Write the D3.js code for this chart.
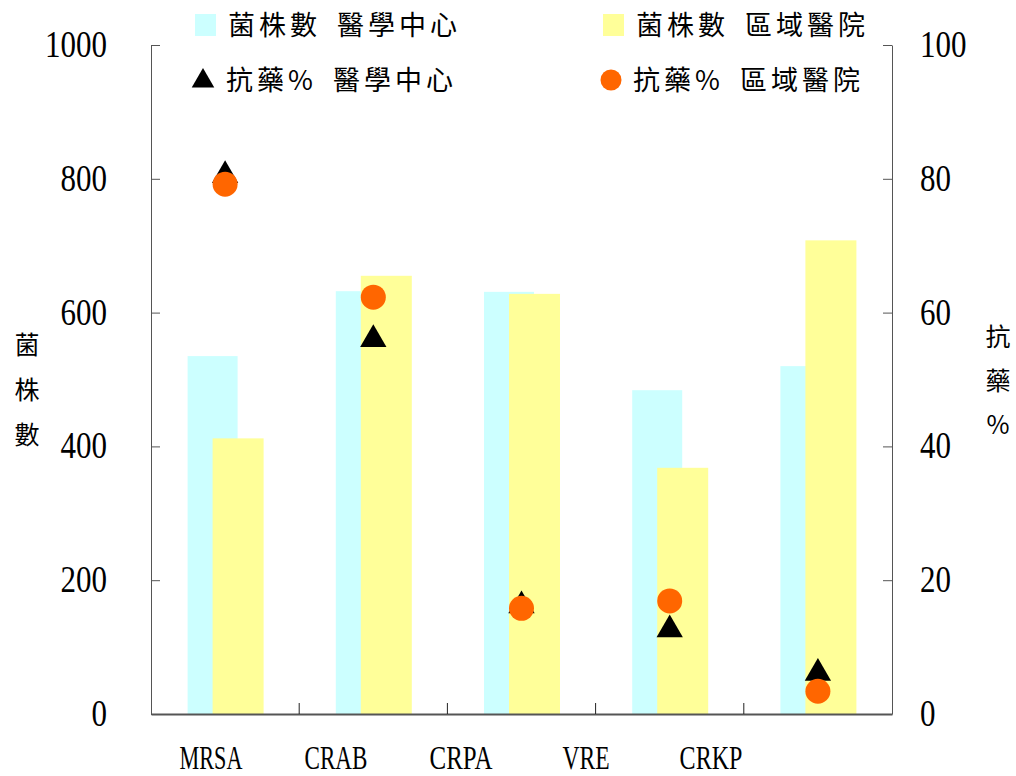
<!doctype html>
<html lang="zh-Hant">
  <head>
    <meta charset="utf-8">
    <title>菌株數與抗藥%</title>
    <script src="https://d3js.org/d3.v7.min.js"></script>
    <style>
    body { margin: 0; background: #fff; }
    .tick text, .cat { font-family: "Liberation Serif", serif; fill: #000; }
    .cjk { font-family: "Noto Sans CJK TC", sans-serif; fill: #000; }
    .axis path, .axis line { stroke: #555; }
    </style>
  </head>
  <body>
    <svg width="1016" height="776"></svg>
    <script>
      // data
      var groups = ['MRSA', 'CRAB', 'CRPA', 'CRKP', 'VRE2'];
      var catLabels = ['MRSA', 'CRAB', 'CRPA', 'VRE', 'CRKP'];
      var countMedical = [535, 632, 631, 484, 520];
      var countRegional = [412, 655, 628, 368, 708];
      var pctMedical = [80.5, 56, 16.2, 12.6, 6.1];
      var pctRegional = [79.2, 62.3, 15.8, 16.9, 3.4];
      var leftTicks = [0, 200, 400, 600, 800, 1000];
      var rightTicks = [0, 20, 40, 60, 80, 100];

      var svg = d3.select('svg');
      var plotLeft = 151, plotRight = 892, plotTop = 45, plotBottom = 714;

      var x = d3.scaleBand().domain(groups).range([plotLeft, plotRight]);
      var yCount = d3.scaleLinear().domain([0, 1000]).range([plotBottom, plotTop]);
      var yPct = d3.scaleLinear().domain([0, 100]).range([plotBottom, plotTop]);
      var barW = 50;

      // bars (cyan behind, yellow in front)
      svg.selectAll('rect.med').data(groups).enter().append('rect')
        .attr('x', function(d){ return x(d) + x.bandwidth() / 2 - 37.5; })
        .attr('y', function(d, i){ return yCount(countMedical[i]); })
        .attr('width', barW)
        .attr('height', function(d, i){ return plotBottom - yCount(countMedical[i]); })
        .attr('fill', '#ccffff');

      svg.selectAll('rect.reg').data(groups).enter().append('rect')
        .attr('x', function(d){ return x(d) + x.bandwidth() / 2 - 12.5; })
        .attr('y', function(d, i){ return yCount(countRegional[i]); })
        .attr('width', barW + 1)
        .attr('height', function(d, i){ return plotBottom - yCount(countRegional[i]); })
        .attr('fill', '#ffff99');

      // axes
      svg.append('g').attr('class', 'axis')
        .attr('transform', 'translate(' + plotLeft + ',0)')
        .call(d3.axisRight(yCount).tickValues(leftTicks).tickSize(9).tickSizeOuter(0).tickFormat(''));
      svg.append('g').attr('class', 'axis')
        .attr('transform', 'translate(' + plotRight + ',0)')
        .call(d3.axisLeft(yPct).tickValues(rightTicks).tickSize(9).tickSizeOuter(0).tickFormat(''));
      svg.append('g').attr('class', 'axis')
        .attr('transform', 'translate(0,' + plotBottom + ')')
        .call(d3.axisTop(x).tickSize(0).tickFormat(''))
        .call(function(g){ g.select('path').attr('stroke-width', 2); });
      // boundary ticks between groups
      svg.selectAll('line.sep').data(groups.slice(1)).enter().append('line')
        .attr('x1', function(d){ return x(d); })
        .attr('x2', function(d){ return x(d); })
        .attr('y1', plotBottom).attr('y2', plotBottom - 11)
        .attr('stroke', '#222');

      // tick labels
      svg.selectAll('text.lt').data(leftTicks).enter().append('text')
        .attr('class', 'cat')
        .attr('x', 107).attr('y', function(d){ return yCount(d) + 12; })
        .attr('text-anchor', 'end')
        .attr('font-size', 37)
        .attr('textLength', function(d){ return String(d).length * 15.5; })
        .attr('lengthAdjust', 'spacingAndGlyphs')
        .text(function(d){ return d; });
      svg.selectAll('text.rt').data(rightTicks).enter().append('text')
        .attr('class', 'cat')
        .attr('x', 920).attr('y', function(d){ return yPct(d) + 12; })
        .attr('font-size', 37)
        .attr('textLength', function(d){ return String(d).length * 15.5; })
        .attr('lengthAdjust', 'spacingAndGlyphs')
        .text(function(d){ return d; });

      // category labels (placed as in the original, not centred on the bars)
      var xl = d3.scalePoint().domain(catLabels).range([211, 711]);
      svg.selectAll('text.cl').data(catLabels).enter().append('text')
        .attr('class', 'cat')
        .attr('x', function(d){ return xl(d) - d.length * 7.85; })
        .attr('y', 769)
        .attr('font-size', 33)
        .attr('textLength', function(d){ return d.length * 15.7; })
        .attr('lengthAdjust', 'spacingAndGlyphs')
        .text(function(d){ return d; });

      // markers
      var tri = d3.symbol().type(d3.symbolTriangle).size(300);
      svg.selectAll('path.tri').data(groups).enter().append('path')
        .attr('d', tri)
        .attr('transform', function(d, i){ return 'translate(' + (x(d) + x.bandwidth() / 2) + ',' + yPct(pctMedical[i]) + ')'; })
        .attr('fill', '#000');
      svg.selectAll('circle.dot').data(groups).enter().append('circle')
        .attr('cx', function(d){ return x(d) + x.bandwidth() / 2; })
        .attr('cy', function(d, i){ return yPct(pctRegional[i]); })
        .attr('r', 12.5)
        .attr('fill', '#ff6600');

      // axis titles
      ['菌', '株', '數'].forEach(function(c, i){
        svg.append('text').attr('class', 'cjk').attr('x', 27).attr('y', 354 + i * 45)
          .attr('text-anchor', 'middle').attr('font-size', 25).text(c);
      });
      ['抗', '藥', '%'].forEach(function(c, i){
        svg.append('text').attr('class', 'cjk').attr('x', 998).attr('y', 346 + i * 44)
          .attr('text-anchor', 'middle').attr('font-size', 25).text(c);
      });

      // legend
      var legend = [
        { label: '菌株數 醫學中心', x: 195, y: 25, kind: 'rect', color: '#ccffff' },
        { label: '菌株數 區域醫院', x: 603, y: 25, kind: 'rect', color: '#ffff99' },
        { label: '抗藥% 醫學中心', x: 192, y: 80, kind: 'tri', color: '#000' },
        { label: '抗藥% 區域醫院', x: 599, y: 80, kind: 'circle', color: '#ff6600' }
      ];
      var lg = svg.selectAll('g.lg').data(legend).enter().append('g')
        .attr('transform', function(d){ return 'translate(' + d.x + ',' + d.y + ')'; });
      lg.filter(function(d){ return d.kind === 'rect'; }).append('rect')
        .attr('x', 0).attr('y', -11).attr('width', 21).attr('height', 22)
        .attr('fill', function(d){ return d.color; });
      lg.filter(function(d){ return d.kind === 'tri'; }).append('path')
        .attr('d', d3.symbol().type(d3.symbolTriangle).size(220))
        .attr('transform', 'translate(11,1)').attr('fill', '#000');
      lg.filter(function(d){ return d.kind === 'circle'; }).append('circle')
        .attr('cx', 12).attr('cy', 0).attr('r', 10.5).attr('fill', '#ff6600');
      lg.append('text').attr('class', 'cjk')
        .attr('x', function(d){ return d.kind === 'rect' ? 33 : 34; })
        .attr('y', 10)
        .attr('font-size', 27)
        .attr('letter-spacing', 4)
        .attr('word-spacing', 6)
        .text(function(d){ return d.label; });
    </script>
  </body>
</html>
